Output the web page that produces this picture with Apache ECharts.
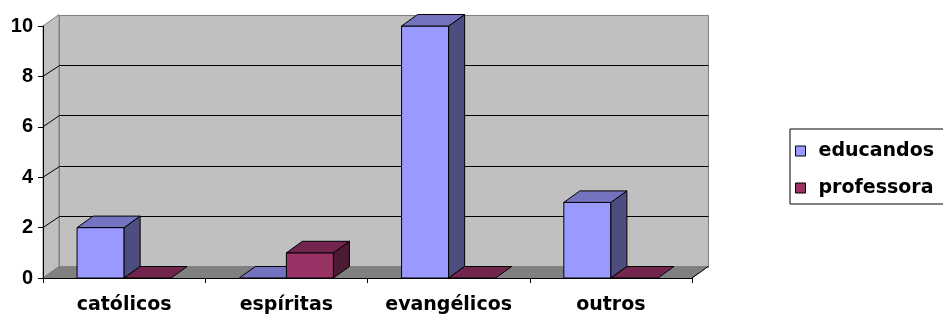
<!DOCTYPE html>
<html>
<head>
<meta charset="utf-8">
<script src="https://cdn.jsdelivr.net/npm/echarts@6/dist/echarts.min.js"></script>
<style>html,body{margin:0;padding:0;background:#fff;}#c{width:943px;height:315px;}</style>
</head>
<body>
<div id="c"></div>
<script>
const categories = ['católicos', 'espíritas', 'evangélicos', 'outros'];
const educandos = [2, 0, 10, 3];
const professora = [0, 1, 0, 0];
const yTicks = [0, 2, 4, 6, 8, 10];

const FONT = '"DejaVu Sans"';
const FONT_Y = '"Liberation Sans"';
const DX = 16, DY = 11.5;

const chart = echarts.init(document.getElementById('c'), null, {renderer: 'canvas'});

function crisp(v) { return Math.round(v) + 0.5; }

function wallRender(params, api) {
  const cs = params.coordSys;
  const gx = cs.x, gy = cs.y, w = cs.width, h = cs.height;
  const by = gy + h;
  const children = [];
  children.push({type: 'polygon', shape: {points: [[gx, gy], [gx + DX, gy - DY], [gx + DX, by - DY], [gx, by]]},
    style: {fill: '#c0c0c0', stroke: '#808080', lineWidth: 1}});
  children.push({type: 'rect', shape: {x: crisp(gx + DX), y: crisp(gy - DY), width: Math.round(w), height: Math.round(h)},
    style: {fill: '#c0c0c0', stroke: '#808080', lineWidth: 1}});
  yTicks.forEach(function (v) {
    if (v === yTicks[0] || v === yTicks[yTicks.length - 1]) return;
    const y = api.coord([0, v])[1];
    const yb = crisp(y - DY);
    children.push({type: 'polyline', shape: {points: [[gx, y], [crisp(gx + DX), yb], [crisp(gx + w + DX), yb]]},
      style: {stroke: '#000', lineWidth: 1, fill: null}});
  });
  children.push({type: 'polygon', shape: {points: [[gx, by], [gx + w, by], [gx + w + DX, by - DY], [gx + DX, by - DY]]},
    style: {fill: '#808080', stroke: '#808080', lineWidth: 1}});
  children.push({type: 'line', shape: {x1: gx + w, y1: by, x2: gx + w + DX, y2: by - DY},
    style: {stroke: '#000', lineWidth: 1}});
  return {type: 'group', children: children};
}

function barRender(slot, front, top, side) {
  return function (params, api) {
    const cat = api.value(0), val = api.value(1);
    const c = api.coord([cat, val]);
    const b = api.coord([cat, 0]);
    const band = api.size([1, 0])[0];
    const bw = band * 0.29;
    const x0 = c[0] - bw + slot * bw;
    const t = c[1], base = b[1];
    const st = {stroke: '#000', lineWidth: 1};
    const children = [];
    if (val > 0) {
      children.push({type: 'rect', shape: {x: x0, y: t, width: bw, height: base - t},
        style: Object.assign({fill: front}, st)});
      children.push({type: 'polygon', shape: {points: [[x0 + bw, t], [x0 + bw + DX, t - DY], [x0 + bw + DX, base - DY], [x0 + bw, base]]},
        style: Object.assign({fill: side}, st)});
    }
    children.push({type: 'polygon', shape: {points: [[x0, t], [x0 + bw, t], [x0 + bw + DX, t - DY], [x0 + DX, t - DY]]},
      style: Object.assign({fill: top}, st)});
    return {type: 'group', children: children};
  };
}

const option = {
  animation: false,
  backgroundColor: '#fff',
  grid: {left: 43, right: 251, top: 26, bottom: 36},
  legend: {
    data: ['educandos', 'professora'],
    orient: 'vertical',
    left: 790, top: 129,
    padding: [12, 20, 6, 5],
    itemGap: 17,
    itemWidth: 10, itemHeight: 10,
    icon: 'rect',
    itemStyle: {borderColor: '#000', borderWidth: 1},
    borderColor: '#000', borderWidth: 1,
    backgroundColor: '#fff',
    textStyle: {fontSize: 19, fontWeight: 'bold', fontFamily: FONT, color: '#000', padding: [0, 0, 0, 8], lineHeight: 20}
  },
  xAxis: {
    type: 'category',
    data: categories,
    boundaryGap: true,
    z: 10,
    axisLine: {show: true, lineStyle: {color: '#000', width: 1}},
    axisTick: {show: true, length: 5, interval: 0, lineStyle: {color: '#000'}},
    axisLabel: {interval: 0, margin: 18, fontSize: 19, fontWeight: 'bold', fontFamily: FONT, color: '#000'},
    splitLine: {show: false}
  },
  yAxis: {
    type: 'value',
    min: yTicks[0], max: yTicks[yTicks.length - 1], interval: 2,
    z: 10,
    axisLine: {show: true, lineStyle: {color: '#000', width: 1}},
    axisTick: {show: true, length: 5, lineStyle: {color: '#000'}},
    axisLabel: {margin: 10, fontSize: 20, fontWeight: 'bold', fontFamily: FONT_Y, color: '#000'},
    splitLine: {show: false}
  },
  series: [
    {type: 'custom', name: 'wall', silent: true, z: 1, data: [[0, 0]], encode: {x: 0, y: 1}, renderItem: wallRender},
    {type: 'custom', name: 'educandos', z: 3, itemStyle: {color: '#9999ff'},
      data: educandos.map(function (v, i) { return [i, v]; }), encode: {x: 0, y: 1},
      renderItem: barRender(0, '#9999ff', '#7373bf', '#4d4d80')},
    {type: 'custom', name: 'professora', z: 4, itemStyle: {color: '#993366'},
      data: professora.map(function (v, i) { return [i, v]; }), encode: {x: 0, y: 1},
      renderItem: barRender(1, '#993366', '#73264d', '#4d1a33')}
  ]
};
chart.setOption(option);
</script>
</body>
</html>
